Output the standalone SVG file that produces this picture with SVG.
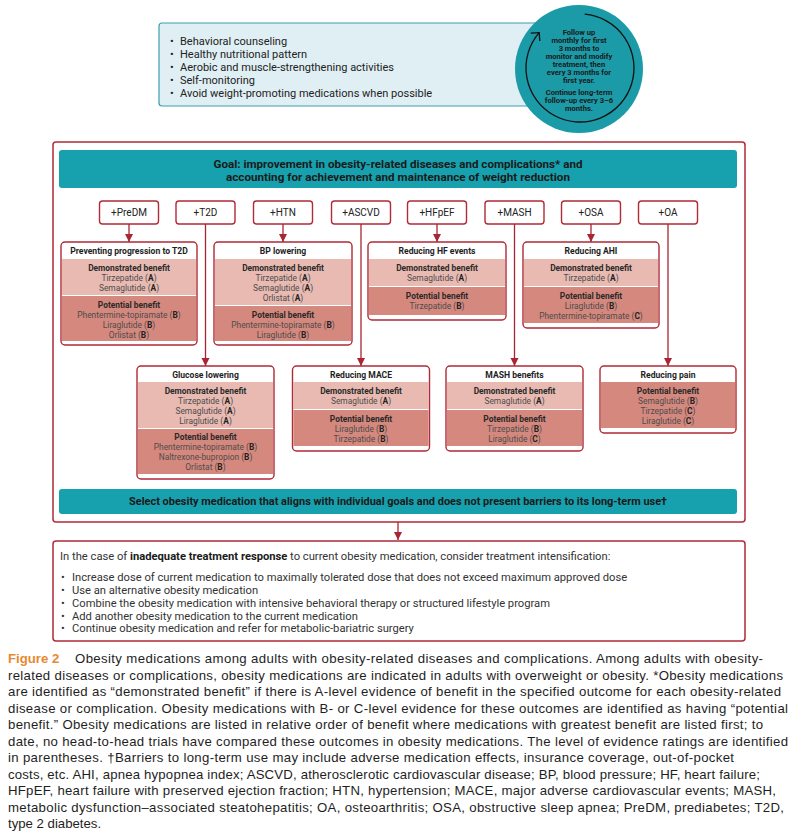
<svg xmlns="http://www.w3.org/2000/svg" width="795" height="835" viewBox="0 0 795 835">
<defs>
<style>
.f{font-family:Roboto,"Liberation Sans",Arial,sans-serif}
.cap{font-family:"Liberation Sans",Arial,sans-serif;font-size:13.2px;fill:#1e1e1e}
.bg{fill:#fff}
.bd{fill:none;stroke:#b02a37;stroke-width:1.4}
.dem{fill:#e8bab2}
.pot{fill:#d5887d}
.ttl{font-size:8.6px;font-weight:bold;fill:#1e1e1e;text-anchor:middle}
.hd{font-size:8.4px;font-weight:bold;fill:#2a2a2a;text-anchor:middle}
.dr{font-size:8.4px;fill:#4d4d4d;text-anchor:middle}
.dr tspan{font-weight:bold;fill:#222}
.plus rect{fill:#fff;stroke:#b02a37;stroke-width:1.4}
.plus text{font-size:10px;fill:#222;text-anchor:middle}
.con line{stroke:#a82633;stroke-width:1.3}
.bul{font-size:11px;fill:#222}
.bt{font-size:11.2px;fill:#333}
.ct{font-size:7.6px;font-weight:bold;fill:#1a1a1a;text-anchor:middle}
</style>
<marker id="ah" markerUnits="userSpaceOnUse" markerWidth="10" markerHeight="10" refX="8" refY="4" orient="auto">
<path d="M0,0 L8,4 L0,8 z" fill="#a82633"/>
</marker>
<marker id="oh" markerUnits="userSpaceOnUse" markerWidth="14" markerHeight="14" refX="7" refY="7" orient="auto">
<path d="M1,1 L7,7 L1,13" fill="none" stroke="#111" stroke-width="1.3"/>
</marker>
</defs>
<rect width="795" height="835" fill="#fff"/>

<g id="lifestyle" class="f">
<rect x="159" y="23" width="380" height="83" rx="3" fill="#e0eff4" stroke="#3a9fad" stroke-width="1.2"/>
<g class="bul">
<text x="170" y="45">•</text><text x="180" y="45">Behavioral counseling</text>
<text x="170" y="58">•</text><text x="180" y="58">Healthy nutritional pattern</text>
<text x="170" y="71">•</text><text x="180" y="71">Aerobic and muscle-strengthening activities</text>
<text x="170" y="84">•</text><text x="180" y="84">Self-monitoring</text>
<text x="170" y="97">•</text><text x="180" y="97">Avoid weight-promoting medications when possible</text>
</g>
</g>

<g id="followup" class="f">
<circle cx="579" cy="69" r="64" fill="#1b9aa8"/>
<path d="M584.7,14.2 A54,54 0 1 1 539.2,32.6" fill="none" stroke="#111" stroke-width="1.3" marker-end="url(#oh)"/>
<text class="ct" x="579" y="35">Follow up</text>
<text class="ct" x="579" y="43">monthly for first</text>
<text class="ct" x="579" y="51">3 months to</text>
<text class="ct" x="579" y="59">monitor and modify</text>
<text class="ct" x="579" y="67">treatment, then</text>
<text class="ct" x="579" y="75">every 3 months for</text>
<text class="ct" x="579" y="83">first year.</text>
<text class="ct" x="579" y="95">Continue long-term</text>
<text class="ct" x="579" y="103">follow-up every 3–6</text>
<text class="ct" x="579" y="111">months.</text>
</g>

<g id="main" class="f">
<rect x="53" y="142" width="692" height="380" rx="3" fill="#fff" stroke="#b02a37" stroke-width="1.5"/>
</g>

<g id="goal" class="f">
<rect x="59" y="150" width="678" height="38" rx="3" fill="#17a0ad"/>
<text x="398" y="168" text-anchor="middle" font-size="11.2" font-weight="bold" fill="#1a1a1a" textLength="369" lengthAdjust="spacingAndGlyphs">Goal: improvement in obesity-related diseases and complications* and</text>
<text x="398" y="181" text-anchor="middle" font-size="11.2" font-weight="bold" fill="#1a1a1a" textLength="344" lengthAdjust="spacingAndGlyphs">accounting for achievement and maintenance of weight reduction</text>
</g>

<g id="plus-predm" class="plus f"><rect x="99.5" y="201" width="59" height="23" rx="3"/><text x="129" y="216">+PreDM</text></g>
<g id="plus-t2d" class="plus f"><rect x="176" y="201" width="59" height="23" rx="3"/><text x="205.5" y="216">+T2D</text></g>
<g id="plus-htn" class="plus f"><rect x="253.5" y="201" width="59" height="23" rx="3"/><text x="283" y="216">+HTN</text></g>
<g id="plus-ascvd" class="plus f"><rect x="331.5" y="201" width="59" height="23" rx="3"/><text x="361" y="216">+ASCVD</text></g>
<g id="plus-hfpef" class="plus f"><rect x="407.5" y="201" width="59" height="23" rx="3"/><text x="437" y="216">+HFpEF</text></g>
<g id="plus-mash" class="plus f"><rect x="485" y="201" width="59" height="23" rx="3"/><text x="514.5" y="216">+MASH</text></g>
<g id="plus-osa" class="plus f"><rect x="561.5" y="201" width="59" height="23" rx="3"/><text x="591" y="216">+OSA</text></g>
<g id="plus-oa" class="plus f"><rect x="638.5" y="201" width="59" height="23" rx="3"/><text x="668" y="216">+OA</text></g>

<g id="connectors" class="con">
<line x1="129" y1="224" x2="129" y2="242" marker-end="url(#ah)"/>
<line x1="205.5" y1="224" x2="205.5" y2="366" marker-end="url(#ah)"/>
<line x1="283" y1="224" x2="283" y2="242" marker-end="url(#ah)"/>
<line x1="361" y1="224" x2="361" y2="366" marker-end="url(#ah)"/>
<line x1="437" y1="224" x2="437" y2="242" marker-end="url(#ah)"/>
<line x1="514.5" y1="224" x2="514.5" y2="366" marker-end="url(#ah)"/>
<line x1="591" y1="224" x2="591" y2="242" marker-end="url(#ah)"/>
<line x1="668" y1="224" x2="668" y2="366" marker-end="url(#ah)"/>
<line x1="398" y1="522" x2="398" y2="540" marker-end="url(#ah)"/>
</g>

<g id="box-predm" class="f">
<rect class="bg" x="61" y="242" width="136" height="103" rx="4"/>
<rect class="dem" x="62" y="259" width="134" height="36"/>
<rect class="pot" x="62" y="296" width="134" height="45"/>
<rect class="bd" x="61" y="242" width="136" height="103" rx="4"/>
<text class="ttl" x="129" y="254">Preventing progression to T2D</text>
<text class="hd" x="129" y="271">Demonstrated benefit</text>
<text class="dr" x="129" y="281">Tirzepatide (<tspan>A</tspan>)</text>
<text class="dr" x="129" y="291">Semaglutide (<tspan>A</tspan>)</text>
<text class="hd" x="129" y="308">Potential benefit</text>
<text class="dr" x="129" y="318">Phentermine-topiramate (<tspan>B</tspan>)</text>
<text class="dr" x="129" y="328">Liraglutide (<tspan>B</tspan>)</text>
<text class="dr" x="129" y="338">Orlistat (<tspan>B</tspan>)</text>
</g>

<g id="box-htn" class="f">
<rect class="bg" x="214" y="242" width="138" height="103" rx="4"/>
<rect class="dem" x="215" y="259" width="136" height="46"/>
<rect class="pot" x="215" y="306" width="136" height="35"/>
<rect class="bd" x="214" y="242" width="138" height="103" rx="4"/>
<text class="ttl" x="283" y="254">BP lowering</text>
<text class="hd" x="283" y="271">Demonstrated benefit</text>
<text class="dr" x="283" y="281">Tirzepatide (<tspan>A</tspan>)</text>
<text class="dr" x="283" y="291">Semaglutide (<tspan>A</tspan>)</text>
<text class="dr" x="283" y="301">Orlistat (<tspan>A</tspan>)</text>
<text class="hd" x="283" y="318">Potential benefit</text>
<text class="dr" x="283" y="328">Phentermine-topiramate (<tspan>B</tspan>)</text>
<text class="dr" x="283" y="338">Liraglutide (<tspan>B</tspan>)</text>
</g>

<g id="box-hfpef" class="f">
<rect class="bg" x="368" y="242" width="138" height="78" rx="4"/>
<rect class="dem" x="369" y="259" width="136" height="27"/>
<rect class="pot" x="369" y="287" width="136" height="28"/>
<rect class="bd" x="368" y="242" width="138" height="78" rx="4"/>
<text class="ttl" x="437" y="254">Reducing HF events</text>
<text class="hd" x="437" y="271">Demonstrated benefit</text>
<text class="dr" x="437" y="281">Semaglutide (<tspan>A</tspan>)</text>
<text class="hd" x="437" y="299">Potential benefit</text>
<text class="dr" x="437" y="309">Tirzepatide (<tspan>B</tspan>)</text>
</g>

<g id="box-osa" class="f">
<rect class="bg" x="523" y="242" width="136" height="86" rx="4"/>
<rect class="dem" x="524" y="259" width="134" height="27"/>
<rect class="pot" x="524" y="287" width="134" height="36"/>
<rect class="bd" x="523" y="242" width="136" height="86" rx="4"/>
<text class="ttl" x="591" y="254">Reducing AHI</text>
<text class="hd" x="591" y="271">Demonstrated benefit</text>
<text class="dr" x="591" y="281">Tirzepatide (<tspan>A</tspan>)</text>
<text class="hd" x="591" y="299">Potential benefit</text>
<text class="dr" x="591" y="309">Liraglutide (<tspan>B</tspan>)</text>
<text class="dr" x="591" y="319">Phentermine-topiramate (<tspan>C</tspan>)</text>
</g>

<g id="box-t2d" class="f">
<rect class="bg" x="137" y="366" width="137" height="113" rx="4"/>
<rect class="dem" x="138" y="382" width="135" height="46"/>
<rect class="pot" x="138" y="429" width="135" height="45"/>
<rect class="bd" x="137" y="366" width="137" height="113" rx="4"/>
<text class="ttl" x="205.5" y="378">Glucose lowering</text>
<text class="hd" x="205.5" y="394">Demonstrated benefit</text>
<text class="dr" x="205.5" y="404">Tirzepatide (<tspan>A</tspan>)</text>
<text class="dr" x="205.5" y="414">Semaglutide (<tspan>A</tspan>)</text>
<text class="dr" x="205.5" y="424">Liraglutide (<tspan>A</tspan>)</text>
<text class="hd" x="205.5" y="440">Potential benefit</text>
<text class="dr" x="205.5" y="450">Phentermine-topiramate (<tspan>B</tspan>)</text>
<text class="dr" x="205.5" y="460">Naltrexone-bupropion (<tspan>B</tspan>)</text>
<text class="dr" x="205.5" y="470">Orlistat (<tspan>B</tspan>)</text>
</g>

<g id="box-ascvd" class="f">
<rect class="bg" x="292.5" y="366" width="137" height="85" rx="4"/>
<rect class="dem" x="293.5" y="382" width="135" height="27"/>
<rect class="pot" x="293.5" y="410" width="135" height="36"/>
<rect class="bd" x="292.5" y="366" width="137" height="85" rx="4"/>
<text class="ttl" x="361" y="378">Reducing MACE</text>
<text class="hd" x="361" y="394">Demonstrated benefit</text>
<text class="dr" x="361" y="404">Semaglutide (<tspan>A</tspan>)</text>
<text class="hd" x="361" y="422">Potential benefit</text>
<text class="dr" x="361" y="432">Liraglutide (<tspan>B</tspan>)</text>
<text class="dr" x="361" y="442">Tirzepatide (<tspan>B</tspan>)</text>
</g>

<g id="box-mash" class="f">
<rect class="bg" x="446" y="366" width="137" height="85" rx="4"/>
<rect class="dem" x="447" y="382" width="135" height="27"/>
<rect class="pot" x="447" y="410" width="135" height="36"/>
<rect class="bd" x="446" y="366" width="137" height="85" rx="4"/>
<text class="ttl" x="514.5" y="378">MASH benefits</text>
<text class="hd" x="514.5" y="394">Demonstrated benefit</text>
<text class="dr" x="514.5" y="404">Semaglutide (<tspan>A</tspan>)</text>
<text class="hd" x="514.5" y="422">Potential benefit</text>
<text class="dr" x="514.5" y="432">Tirzepatide (<tspan>B</tspan>)</text>
<text class="dr" x="514.5" y="442">Liraglutide (<tspan>C</tspan>)</text>
</g>

<g id="box-oa" class="f">
<rect class="bg" x="600" y="366" width="136" height="67" rx="4"/>
<rect class="pot" x="601" y="382" width="134" height="46"/>
<rect class="bd" x="600" y="366" width="136" height="67" rx="4"/>
<text class="ttl" x="668" y="378">Reducing pain</text>
<text class="hd" x="668" y="394">Potential benefit</text>
<text class="dr" x="668" y="404">Semaglutide (<tspan>B</tspan>)</text>
<text class="dr" x="668" y="414">Tirzepatide (<tspan>C</tspan>)</text>
<text class="dr" x="668" y="424">Liraglutide (<tspan>C</tspan>)</text>
</g>

<g id="select" class="f">
<rect x="59" y="489" width="678" height="25" rx="3" fill="#17a0ad"/>
<text x="398" y="505" text-anchor="middle" font-size="10" font-weight="bold" fill="#1a1a1a" textLength="538" lengthAdjust="spacingAndGlyphs">Select obesity medication that aligns with individual goals and does not present barriers to its long-term use†</text>
</g>

<g id="intensify" class="f">
<rect x="53" y="541" width="692" height="100" rx="3" fill="#fff" stroke="#b02a37" stroke-width="1.5"/>
<text class="bt" x="60" y="560">In the case of <tspan font-weight="bold" fill="#1a1a1a">inadequate treatment response</tspan> to current obesity medication, consider treatment intensification:</text>
<text class="bt" x="61" y="581">•</text><text class="bt" x="72" y="581">Increase dose of current medication to maximally tolerated dose that does not exceed maximum approved dose</text>
<text class="bt" x="61" y="594">•</text><text class="bt" x="72" y="594">Use an alternative obesity medication</text>
<text class="bt" x="61" y="607">•</text><text class="bt" x="72" y="607">Combine the obesity medication with intensive behavioral therapy or structured lifestyle program</text>
<text class="bt" x="61" y="620">•</text><text class="bt" x="72" y="620">Add another obesity medication to the current medication</text>
<text class="bt" x="61" y="632">•</text><text class="bt" x="72" y="632">Continue obesity medication and refer for metabolic-bariatric surgery</text>
</g>

<g id="caption">
<text class="cap" x="8" y="663" font-weight="bold" style="fill:#e8892f">Figure 2</text>
<text class="cap" x="75" y="663" textLength="688" lengthAdjust="spacing">Obesity medications among adults with obesity-related diseases and complications. Among adults with obesity-</text>
<text class="cap" x="8" y="679.5" textLength="775" lengthAdjust="spacing">related diseases or complications, obesity medications are indicated in adults with overweight or obesity. *Obesity medications</text>
<text class="cap" x="8" y="696" textLength="773" lengthAdjust="spacing">are identified as “demonstrated benefit” if there is A-level evidence of benefit in the specified outcome for each obesity-related</text>
<text class="cap" x="8" y="712.5" textLength="780" lengthAdjust="spacing">disease or complication. Obesity medications with B- or C-level evidence for these outcomes are identified as having “potential</text>
<text class="cap" x="8" y="729" textLength="755" lengthAdjust="spacing">benefit.” Obesity medications are listed in relative order of benefit where medications with greatest benefit are listed first; to</text>
<text class="cap" x="8" y="745.5" textLength="780" lengthAdjust="spacing">date, no head-to-head trials have compared these outcomes in obesity medications. The level of evidence ratings are identified</text>
<text class="cap" x="8" y="762" textLength="726" lengthAdjust="spacing">in parentheses. †Barriers to long-term use may include adverse medication effects, insurance coverage, out-of-pocket</text>
<text class="cap" x="8" y="778.5" textLength="752" lengthAdjust="spacing">costs, etc. AHI, apnea hypopnea index; ASCVD, atherosclerotic cardiovascular disease; BP, blood pressure; HF, heart failure;</text>
<text class="cap" x="8" y="795" textLength="768" lengthAdjust="spacing">HFpEF, heart failure with preserved ejection fraction; HTN, hypertension; MACE, major adverse cardiovascular events; MASH,</text>
<text class="cap" x="8" y="811.5" textLength="776" lengthAdjust="spacing">metabolic dysfunction–associated steatohepatitis; OA, osteoarthritis; OSA, obstructive sleep apnea; PreDM, prediabetes; T2D,</text>
<text class="cap" x="8" y="828">type 2 diabetes.</text>
</g>
</svg>
